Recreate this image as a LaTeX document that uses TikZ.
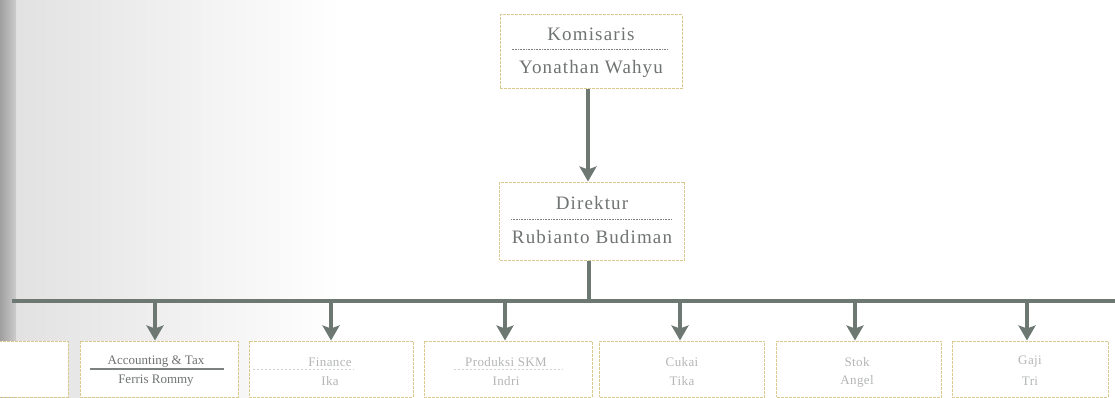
\documentclass[tikz,border=0pt]{standalone}
\usepackage{fontspec}
\setmainfont{Liberation Serif}
\usetikzlibrary{arrows.meta}
\definecolor{bordc}{HTML}{D9C98F}
\definecolor{linec}{HTML}{6E7872}
\definecolor{txtc}{HTML}{6F7471}
\definecolor{faintc}{HTML}{B3B6B4}
\definecolor{divc}{HTML}{7D817F}
\begin{document}
\begin{tikzpicture}[x=1pt,y=-1pt,
  box/.style={draw=bordc,line width=1pt,dash pattern=on 3pt off 1pt,fill=white,inner sep=0pt},
  conn/.style={draw=linec,line width=3.5pt},
  arr/.style={conn,-{Stealth[length=15pt,width=17pt,inset=3pt]}},
  toptext/.style={font=\fontsize{19}{22}\selectfont\addfontfeatures{LetterSpace=6},text=txtc,inner sep=0pt},
  subtext/.style={font=\fontsize{13}{15}\selectfont\addfontfeatures{LetterSpace=3},text=faintc,inner sep=0pt},
  darksub/.style={font=\fontsize{13}{15}\selectfont,text=txtc,inner sep=0pt},
  divd/.style={draw=divc,line width=0.8pt,dash pattern=on 1pt off 0.6pt},
  divf/.style={draw=faintc!60,line width=0.6pt,dash pattern=on 2pt off 2pt},
  divs/.style={draw=divc,line width=1.2pt}]
\useasboundingbox (0,0) rectangle (1115,398);
\begin{scope}
\clip (0,0) rectangle (1115,398);
% scanned page background
\shade[left color=gray!24,right color=white] (0,0) rectangle (340,398);
\shade[left color=gray!75,right color=gray!40] (0,0) rectangle (16,398);

% top boxes
\node[box,minimum width=182pt,minimum height=74pt] (kom) at (591,52) {};
\node[toptext] (komT) at (591,34) {Komisaris};
\node[toptext] (komN) at (591,69) {Yonathan Wahyu};
\draw[divd] ([xshift=12pt,yshift=3pt]kom.west) -- ([xshift=-15pt,yshift=3pt]kom.east);

\node[box,minimum width=185pt,minimum height=78pt] (dir) at (592,221) {};
\node[toptext] (dirT) at (592,203) {Direktur};
\node[toptext] (dirN) at (592,237) {Rubianto Budiman};
\draw[divd] ([xshift=12pt,yshift=2pt]dir.west) -- ([xshift=-13pt,yshift=2pt]dir.east);

\draw[arr] ([xshift=-3pt]kom.south) -- ([xshift=-4pt]dir.north);

% bus
\coordinate (bus) at (589,301);
\coordinate (busL) at (12,301);
\coordinate (busR) at (1120,301);
\draw[conn] ([xshift=-3pt]dir.south) -- (bus);
\draw[conn] (busL) -- (busR);

% bottom boxes
\node[box,minimum width=158pt,minimum height=56pt] (prev) at (-11,369) {};
\node[box,minimum width=158pt,minimum height=56pt] (acc) at (159,369) {};
\node[box,minimum width=164pt,minimum height=56pt] (fin) at (331,369) {};
\node[box,minimum width=168pt,minimum height=56pt] (prod) at (508,369) {};
\node[box,minimum width=165pt,minimum height=56pt] (cuk) at (682,369) {};
\node[box,minimum width=165pt,minimum height=56pt] (stok) at (859,369) {};
\node[box,minimum width=156pt,minimum height=56pt] (gaji) at (1030,369) {};

\node[darksub] (accT) at (156,362) {Accounting \& Tax};
\node[darksub] (accN) at (156,381) {Ferris Rommy};
\draw[divs] ([xshift=10pt,yshift=0pt]acc.west) -- ([xshift=-15pt,yshift=0pt]acc.east);

\node[subtext] (finT) at (330,362) {Finance};
\node[subtext] (finN) at (330,381) {Ika};
\draw[divf] ([xshift=4pt]fin.west) -- ([xshift=-60pt]fin.east);

\node[subtext] (prodT) at (506,362) {Produksi SKM};
\node[subtext] (prodN) at (506,381) {Indri};
\draw[divf] ([xshift=30pt]prod.west) -- ([xshift=-30pt]prod.east);

\node[subtext] (cukT) at (682,362) {Cukai};
\node[subtext] (cukN) at (682,381) {Tika};

\node[subtext] (stokT) at (857,362) {Stok};
\node[subtext] (stokN) at (857,381) {Angel};

\node[subtext] (gajiT) at (1030,362) {Gaji};
\node[subtext] (gajiN) at (1030,381) {Tri};

% arrows from bus
\foreach \b/\s in {acc/-4pt,fin/0pt,prod/-3pt,cuk/-2pt,stok/-4pt,gaji/-3pt}{
  \draw[arr] ([xshift=\s]\b.north |- bus) -- ([xshift=\s]\b.north);
}
\end{scope}
\end{tikzpicture}
\end{document}
